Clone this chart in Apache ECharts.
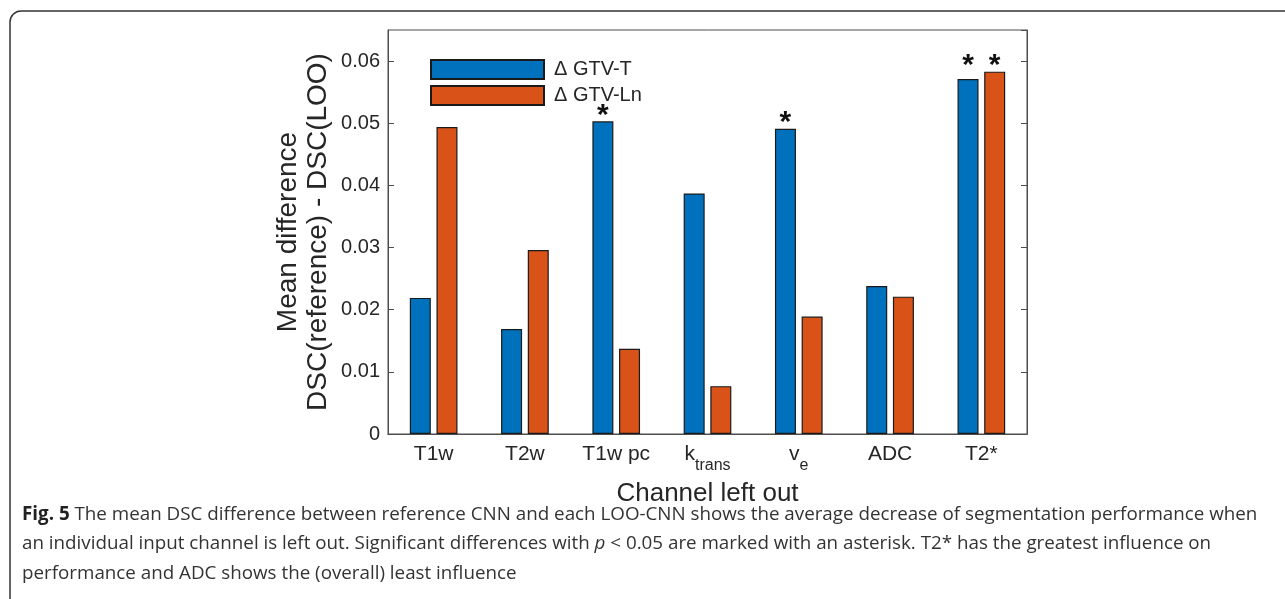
<!DOCTYPE html>
<html>
<head>
<meta charset="utf-8">
<script src="https://cdn.jsdelivr.net/npm/echarts@6/dist/echarts.min.js"></script>
<style>
html,body{margin:0;padding:0;background:#fff;}
#chart{width:1285px;height:599px;}
</style>
</head>
<body>
<div id="chart"></div>
<script>
const categories = ['T1w', 'T2w', 'T1w pc', 'k_trans', 'v_e', 'ADC', 'T2*'];
const seriesNames = ['\u0394 GTV-T', '\u0394 GTV-Ln'];
const gtvT = [0.0219, 0.0169, 0.0503, 0.0387, 0.0491, 0.0238, 0.0571];
const gtvLn = [0.0494, 0.0296, 0.0137, 0.0077, 0.0189, 0.0221, 0.0583];
const sigT = [false, false, true, false, true, false, true];
const sigLn = [false, false, false, false, false, false, true];
const yTicks = [0, 0.01, 0.02, 0.03, 0.04, 0.05, 0.06];
const yMin = 0, yMax = 0.065, yInterval = 0.01;
const yTitle = ['Mean difference', 'DSC(reference) - DSC(LOO)'];
const xTitle = 'Channel left out';
const captionLines = [
  '{b|Fig. 5} The mean DSC difference between reference CNN and each LOO-CNN shows the average decrease of segmentation performance when',
  'an individual input channel is left out. Significant differences with {i|p} < 0.05 are marked with an asterisk. T2* has the greatest influence on',
  'performance and ADC shows the (overall) least influence'
];

const axisColor = '#4d4d4d';
const txtColor = '#262626';
const font = 'Liberation Sans, Arial, Helvetica, sans-serif';
const capFont = 'Open Sans, sans-serif';

// asterisks sit just above the taller bar of each group
const groupMax = gtvT.map((v, i) => Math.max(v, gtvLn[i]));
const extT = gtvT.map((v, i) => groupMax[i] - v);
const extLn = gtvLn.map((v, i) => groupMax[i] - v);

function catLabel(c) {
  if (c.indexOf('_') >= 0) {
    const p = c.split('_');
    return '{m|' + p[0] + '}{s|' + p[1] + '}';
  }
  return '{m|' + c + '}';
}

const chart = echarts.init(document.getElementById('chart'), null, {renderer: 'canvas'});

function starSeries(name, stack, data, sig) {
  return {
    name: name,
    type: 'bar',
    stack: stack,
    data: data,
    barWidth: 21,
    barGap: '27%',
    silent: true,
    itemStyle: {color: 'rgba(0,0,0,0)', borderWidth: 0},
    label: {
      show: true,
      position: 'top',
      distance: -9,
      fontSize: 30,
      fontWeight: 'bold',
      color: '#111',
      fontFamily: font,
      formatter: p => sig[p.dataIndex] ? '*' : ''
    }
  };
}

const option = {
  animation: false,
  backgroundColor: '#fff',
  textStyle: {fontFamily: font},
  grid: {left: 388, right: 258, top: 30, bottom: 165, show: true, borderColor: axisColor, borderWidth: 1},
  legend: {
    data: seriesNames,
    orient: 'vertical',
    left: 430,
    top: 59,
    padding: 0,
    itemWidth: 113,
    itemHeight: 19,
    itemGap: 5,
    icon: 'rect',
    textStyle: {fontSize: 20, color: txtColor, fontFamily: font, padding: [0, 0, 0, 5]}
  },
  xAxis: [{
    type: 'category',
    data: categories,
    position: 'bottom',
    axisLine: {lineStyle: {color: axisColor}},
    axisTick: {inside: true, alignWithLabel: true, length: 5, lineStyle: {color: axisColor}},
    axisLabel: {
      interval: 0,
      margin: 15,
      formatter: v => catLabel(v),
      rich: {
        m: {fontSize: 21, lineHeight: 22, color: txtColor, fontFamily: font, padding: [0, 0, 11, 0]},
        s: {fontSize: 16, lineHeight: 18, color: txtColor, fontFamily: font, padding: [11, 0, 0, 0]}
      }
    },
    name: xTitle,
    nameLocation: 'middle',
    nameGap: 40,
    nameTextStyle: {fontSize: 26, color: txtColor, fontFamily: font}
  }, {
    type: 'category',
    data: categories,
    position: 'top',
    axisLine: {lineStyle: {color: axisColor}},
    axisTick: {inside: true, alignWithLabel: true, length: 5, lineStyle: {color: axisColor}},
    axisLabel: {show: false}
  }],
  yAxis: [{
    type: 'value',
    min: yMin,
    max: yMax,
    interval: yInterval,
    position: 'left',
    splitLine: {show: false},
    axisLine: {show: true, lineStyle: {color: axisColor}},
    axisTick: {show: true, inside: true, length: 6, lineStyle: {color: axisColor}},
    axisLabel: {
      showMaxLabel: false,
      margin: 8,
      fontSize: 20,
      color: txtColor,
      fontFamily: font,
      formatter: v => {
        const t = yTicks.find(x => Math.abs(x - v) < 1e-9);
        if (t === undefined) return '';
        return t === 0 ? '0' : t.toFixed(2);
      }
    },
    name: yTitle.join('\n'),
    nameLocation: 'middle',
    nameRotate: 90,
    nameGap: 55,
    nameTextStyle: {fontSize: 28, color: txtColor, fontFamily: font, lineHeight: 30, align: 'center'}
  }, {
    type: 'value',
    min: yMin,
    max: yMax,
    interval: yInterval,
    position: 'right',
    splitLine: {show: false},
    axisLine: {show: true, lineStyle: {color: axisColor}},
    axisTick: {show: true, inside: true, length: 6, lineStyle: {color: axisColor}},
    axisLabel: {show: false}
  }],
  series: [{
    name: seriesNames[0],
    type: 'bar',
    stack: 'T',
    data: gtvT,
    barWidth: 21,
    barGap: '27%',
    itemStyle: {color: '#0072BD', borderColor: '#1a1a1a', borderWidth: 1.2}
  }, {
    name: seriesNames[1],
    type: 'bar',
    stack: 'L',
    data: gtvLn,
    barWidth: 21,
    barGap: '27%',
    itemStyle: {color: '#D95319', borderColor: '#1a1a1a', borderWidth: 1.2}
  },
  starSeries('sigT', 'T', extT, sigT),
  starSeries('sigLn', 'L', extLn, sigLn)
  ],
  graphic: [
    {
      type: 'rect',
      shape: {x: 10, y: 11, width: 1300, height: 640, r: 11},
      style: {fill: null, stroke: '#333', lineWidth: 1.5},
      silent: true
    }
  ].concat(captionLines.map((t, i) => ({
    type: 'text',
    left: 22,
    top: 505 + i * 29.5,
    style: {
      text: t,
      fontSize: 18.8,
      fill: '#333',
      fontFamily: capFont,
      rich: {
        b: {fontSize: 18.8, fontWeight: 'bold', fill: '#222', fontFamily: capFont},
        i: {fontSize: 18.8, fontStyle: 'italic', fill: '#333', fontFamily: capFont}
      }
    }
  })))
};
chart.setOption(option);
</script>
</body>
</html>
